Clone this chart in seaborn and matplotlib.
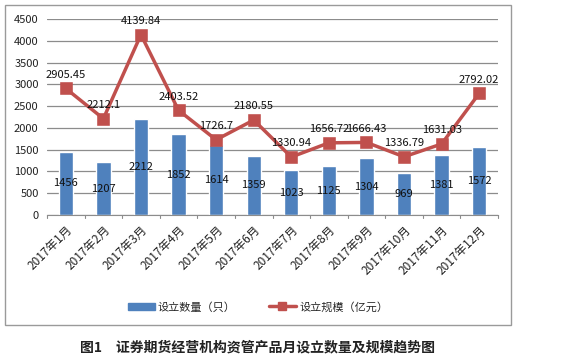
import matplotlib
matplotlib.use("Agg")
import matplotlib.pyplot as plt
import seaborn as sns
import pandas as pd
from matplotlib.patches import Rectangle
from matplotlib.lines import Line2D
from matplotlib.patches import Patch

months = ["2017年1月", "2017年2月", "2017年3月", "2017年4月", "2017年5月", "2017年6月",
          "2017年7月", "2017年8月", "2017年9月", "2017年10月", "2017年11月", "2017年12月"]
counts = [1456, 1207, 2212, 1852, 1614, 1359, 1023, 1125, 1304, 969, 1381, 1572]
scale = [2905.45, 2212.1, 4139.84, 2403.52, 1726.7, 2180.55, 1330.94, 1656.72,
         1666.43, 1336.79, 1631.03, 2792.02]
scale_labels = ["2905.45", "2212.1", "4139.84", "2403.52", "1726.7", "2180.55", "1330.94",
                "1656.72", "1666.43", "1336.79", "1631.03", "2792.02"]
series_names = ["设立数量（只）", "设立规模（亿元）"]
caption = "图1　证券期货经营机构资管产品月设立数量及规模趋势图"

sns.set_style("white")
plt.rcParams['font.family'] = ['Noto Sans CJK SC', 'DejaVu Sans']

df = pd.DataFrame({"month": months, "count": counts, "scale": scale})

W, H = 578, 356
fig = plt.figure(figsize=(W / 100, H / 100), dpi=100)
ax = fig.add_axes([47 / W, 1 - 215 / H, (498 - 47) / W, (215 - 19) / H])

bar_c = "#4F81BD"
line_c = "#C0504D"

sns.barplot(data=df, x="month", y="count", color=bar_c, width=0.38, ax=ax,
            saturation=1, zorder=2)
sns.pointplot(data=df, x="month", y="scale", color=line_c, markers="s", ax=ax,
              linewidth=2.5, markersize=7)

ax.set_ylim(0, 4500)
ax.set_xlim(-0.5, 11.5)
ax.set_yticks(range(0, 4501, 500))
ax.yaxis.grid(True, color="#8c8c8c", linewidth=0.9)
ax.set_axisbelow(True)
for s in ["top", "right", "left"]:
    ax.spines[s].set_visible(False)
ax.spines["bottom"].set_color("#8c8c8c")
ax.set_xlabel("")
ax.set_ylabel("")
ax.tick_params(axis="y", length=0, labelsize=8, pad=6, labelcolor="#222222")
ax.set_xticks(range(12))
ax.set_xticklabels(months, rotation=45, ha="right", rotation_mode="anchor", fontsize=8.5,
                   color="#222222")
ax.tick_params(axis="x", length=0, pad=6)
for b in [i - 0.5 for i in range(13)]:
    ax.plot([b, b], [0, -60], color="#8c8c8c", linewidth=0.8, clip_on=False)

for i, v in enumerate(counts):
    ax.text(i, v / 2, str(v), ha="center", va="center", fontsize=8, color="#111111", zorder=5)
for i, v in enumerate(scale):
    ax.text(i, v + 200, scale_labels[i], ha="center", va="bottom", fontsize=8,
            color="#111111", zorder=5)

# frame
fig.patches.append(Rectangle((5 / W, 1 - 325 / H), (511 - 5) / W, (325 - 5) / H,
                             transform=fig.transFigure, fill=False, edgecolor="#9a9a9a",
                             linewidth=1.0))

handles = [Patch(facecolor=bar_c, edgecolor=bar_c),
           Line2D([0], [0], color=line_c, marker="s", linewidth=2.5, markersize=6)]
fig.legend(handles, series_names, loc="center", bbox_to_anchor=(258 / W, 1 - 307 / H),
           ncol=2, frameon=False, fontsize=8, handlelength=2.4, columnspacing=3.0,
           handletextpad=0.3)

fig.text(258 / W, 1 - 347 / H, caption, ha="center", va="center", fontsize=10,
         color="#222222", fontweight="bold")

fig.savefig("out.png", dpi=100)
